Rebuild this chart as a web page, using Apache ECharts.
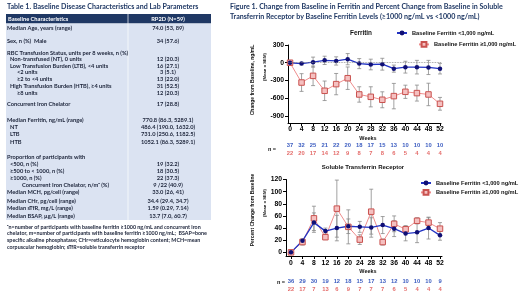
<!DOCTYPE html>
<html><head><meta charset="utf-8">
<script src="https://cdn.jsdelivr.net/npm/echarts@6/dist/echarts.min.js"></script>
<style>html,body{margin:0;padding:0;background:#fff}#c{width:520px;height:294px}</style>
</head><body><div id="c"></div>
<script>
// ---------- data ----------
const weeks = [0,4,8,12,16,20,24,28,32,36,40,44,48,52];
const LOW = 'Baseline Ferritin <1,000 ng/mL';
const HIGH = 'Baseline Ferritin \u22651,000 ng/mL';
const ferLowMean  = [0,-15,10,40,30,60,-15,-30,-25,-100,-75,-75,-80,-100];
const ferLowSem   = [0,20,85,70,70,95,85,90,100,60,100,115,120,90];
const ferHighMean = [0,-335,-222,-475,-362,-262,-537,-577,-627,-565,-492,-514,-537,-695];
const ferHighSem  = [0,150,165,165,180,190,130,170,135,215,112,135,190,108];
const ferNLow  = [37,32,25,21,22,20,18,17,15,13,10,10,10,10];
const ferNHigh = [22,20,17,14,12,9,8,7,8,6,5,4,4,4];
const stfLowMean  = [0,19,49,35,40,43,42,41,45,39,31,33,40,28];
const stfLowSem   = [0,3,16,5,21,12,9,16,14,13,12,17,18,8];
const stfHighMean = [0,17,56,25,72,42,21,67,17,47,38,52,49,39];
const stfHighSem  = [0,5,20,4,47,28,8,37,5,13,6,5,8,10];
const stfNLow  = [36,29,30,19,12,18,15,17,13,12,10,10,10,9];
const stfNHigh = [22,17,7,13,6,9,7,7,7,6,5,4,4,4];
const ferYTicks = [300,0,-300,-600,-900];
const stfYTicks = [0,20,40,60,80,100,120];

const tableLabels = [
 'Median Age, years (range)','Sex, n (%)  Male','RBC Transfusion Status, units per 8 weeks, n (%)',
 'Non-transfused (NT), 0 units','Low Transfusion Burden (LTB), <4 units','<2 units','\u22652 to <4 units',
 'High Transfusion Burden (HTB), \u22654 units','\u22658 units','Concurrent Iron Chelator',
 'Median Ferritin, ng/mL (range)','NT','LTB','HTB','Proportion of participants with',
 '<500, n (%)','\u2265500 to < 1000, n (%)','\u22651000, n (%)','Concurrent Iron Chelator, n/m\u1d43 (%)',
 'Median MCH, pg/cell (range)','Median CHr, pg/cell (range)','Median sTfR, mg/L (range)','Median BSAP, \u00b5g/L (range)'];
const tableValues = [
 '74.0 (53, 89)','34 (57.6)','','12 (20.3)','16 (27.1)','3 (5.1)','13 (22.0)','31 (52.5)','12 (20.3)','17 (28.8)',
 '770.8 (86.3, 5289.1)','486.4 (190.0, 1632.0)','731.0 (250.6, 1182.5)','1052.1 (86.3, 5289.1)','',
 '19 (32.2)','18 (30.5)','22 (37.3)','9 /22 (40.9)','33.0 (26, 41)','34.4 (29.4, 34.7)','1.59 (0.29, 7.14)','13.7 (7.0, 60.7)'];
const tableIndent = [0,0,0,1,1,2,2,1,2,0,0,1,1,1,0,1,1,1,3,0,0,0,0];
const footnote = [
 '\u1d43n=number of participants with baseline ferritin \u22651000 ng/mL and concurrent iron',
 'chelator, m=number of participants with baseline ferritin \u22651000 ng/mL;  BSAP=bone',
 'specific alkaline phosphatase; CHr=reticulocyte hemoglobin content; MCH=mean',
 'corpuscular hemoglobin; sTfR=soluble transferrin receptor'];

// ---------- layout ----------
const rowY = [28.5,41.5,52.7,59.3,66,72.6,79.3,86,93,104,120,127,134.3,141.7,157.3,164.3,171,177.8,184.8,192.3,201,208.3,215.7];
const indentX = [7,10,17,22];
const NAVY = '#1f3864';
const TFONT = 'Lato';
const CFONT = 'Liberation Sans';
const BLUE_LINE = '#2233c4', BLUE_PT = '#0f0f75';
const RED_LINE = '#ee8d8d', RED_FILL = '#f5c0c0', RED_EDGE = '#c9524f';

const g = [];
function txt(x, y, t, o) {
  o = o || {};
  g.push({type:'text', x:x, y:y, rotation:o.rot||0, silent:true, z:10,
    style:{text:t, fill:o.fill||'#1a2238', fontSize:o.size||5.7, fontWeight:o.weight||'bold',
      fontFamily:o.family||TFONT, align:o.align||'left', verticalAlign:'middle'}});
}
// table
g.push({type:'rect', shape:{x:6,y:14,width:205,height:9.5}, style:{fill:NAVY}, silent:true});
g.push({type:'rect', shape:{x:6,y:23.5,width:205,height:196.5}, style:{fill:'#dbe3f2'}, silent:true});
g.push({type:'line', shape:{x1:128,y1:14,x2:128,y2:220}, style:{stroke:'#ffffff',lineWidth:0.7}, silent:true});
txt(7, 6.8, 'Table 1. Baseline Disease Characteristics and Lab Parameters', {fill:NAVY, size:7.1});
txt(8, 18.8, 'Baseline Characteristics', {fill:'#ffffff', size:5.7});
txt(168, 18.8, 'RP2D (N=59)', {fill:'#ffffff', size:5.7, align:'center'});
tableLabels.forEach((l,i)=>{
  txt(indentX[tableIndent[i]], rowY[i], l);
  if (tableValues[i]) txt(168, rowY[i], tableValues[i], {align:'center'});
});
footnote.forEach((l,i)=> txt(7, 227+i*6.7, l, {size:5.35}));
// figure title
txt(230, 6.8, 'Figure 1. Change from Baseline in Ferritin and Percent Change from Baseline in Soluble', {fill:NAVY, size:7.1});
txt(230, 16.8, 'Transferrin Receptor by Baseline Ferritin Levels (\u22651000 ng/mL vs <1000 ng/mL)', {fill:NAVY, size:7.1});
// chart sub titles
txt(361, 33, 'Ferritin', {fill:'#111', size:6.4, family:CFONT, align:'center'});
txt(363, 167, 'Soluble Transferrin Receptor', {fill:'#111', size:6, family:CFONT, align:'center'});
// axis names
txt(253, 80, 'Change from Baseline, ng/mL', {fill:'#111', size:5, family:CFONT, align:'center', rot:Math.PI/2});
txt(265, 67, '(Mean \u00b1 SEM)', {fill:'#111', size:4.3, family:CFONT, align:'center', rot:Math.PI/2});
txt(253, 210, 'Percent Change from Baseline', {fill:'#111', size:5, family:CFONT, align:'center', rot:Math.PI/2});
txt(265, 203, '(Mean \u00b1 SEM)', {fill:'#111', size:4.3, family:CFONT, align:'center', rot:Math.PI/2});
txt(368, 138.3, 'Weeks', {fill:'#111', size:5.5, family:CFONT, align:'center'});
txt(368, 271, 'Weeks', {fill:'#111', size:5.5, family:CFONT, align:'center'});
txt(272, 149.5, 'n =', {fill:'#111', size:5.5, family:CFONT, align:'center'});
txt(281, 282.5, 'n =', {fill:'#111', size:5.5, family:CFONT, align:'center'});

function errRender(params, api) {
  const x = api.value(0), lo = api.value(1), hi = api.value(2);
  if (hi === lo) return null;
  const a = api.coord([x, hi]), b = api.coord([x, lo]);
  const cw = 2, st = {stroke:'#8a8a8a', lineWidth:0.8};
  return {type:'group', children:[
    {type:'line', shape:{x1:a[0],y1:a[1],x2:b[0],y2:b[1]}, style:st},
    {type:'line', shape:{x1:a[0]-cw,y1:a[1],x2:a[0]+cw,y2:a[1]}, style:st},
    {type:'line', shape:{x1:b[0]-cw,y1:b[1],x2:b[0]+cw,y2:b[1]}, style:st}]};
}
const errData = (m,s)=> weeks.map((w,i)=>[w, m[i]-s[i], m[i]+s[i]]);
const ptData = (m)=> weeks.map((w,i)=>[w, m[i]]);

function xAxisCfg(gi, nLow, nHigh, gapH, margin) {
  return {type:'value', gridIndex:gi, min: gi===0?-0.7:-1.75, max: gi===0?52.35:52.7,
    axisLine:{onZero:false, lineStyle:{color:'#000', width:1}},
    axisTick:{customValues:weeks, length:3, lineStyle:{color:'#000', width:1}},
    splitLine:{show:false},
    axisLabel:{customValues:weeks, margin: margin,
      formatter:(v)=>{const i=weeks.indexOf(v); return '{t|'+v+'}\n{g| }\n{b|'+nLow[i]+'}\n{r|'+nHigh[i]+'}';},
      rich:{
        t:{fontFamily:CFONT, fontWeight:'bold', fontSize:6.8, color:'#000', lineHeight:8},
        g:{fontSize:4, lineHeight:gapH},
        b:{fontFamily:CFONT, fontWeight:'bold', fontSize:5.8, color:'#3b5cc0', lineHeight:8},
        r:{fontFamily:CFONT, fontWeight:'bold', fontSize:5.8, color:'#e46c6a', lineHeight:8}
      }}};
}
function yAxisCfg(gi, min, max, ticks) {
  return {type:'value', gridIndex:gi, min:min, max:max,
    axisLine:{show:true, onZero:false, lineStyle:{color:'#000', width:1}},
    axisTick:{show:true, customValues:ticks, length:3, lineStyle:{color:'#000', width:1}},
    splitLine:{show:false},
    axisLabel:{customValues:ticks, margin:4, fontFamily:CFONT, fontWeight:'bold', fontSize:6.8, color:'#000'}};
}
function lineSeries(name, gi, data, low) {
  return {type:'line', name:name, xAxisIndex:gi, yAxisIndex:gi, data:data, z:3,
    symbol: low?'circle':'rect', symbolSize: low?4.5:5.5,
    lineStyle:{color: low?BLUE_LINE:RED_LINE, width: low?1.3:1},
    itemStyle: low?{color:BLUE_PT}:{color:RED_FILL, borderColor:RED_EDGE, borderWidth:1},
    animation:false};
}
function errSeries(gi, data) {
  return {type:'custom', xAxisIndex:gi, yAxisIndex:gi, data:data, renderItem:errRender,
    encode:{x:0, y:[1,2]}, z:2, silent:true, animation:false};
}
const legTxt = {fontFamily:CFONT, fontWeight:'bold', fontSize:5.7, color:'#111'};
const legBase = {itemWidth:10, itemHeight:6, padding:0, itemGap:0, textStyle:legTxt};
const option = {
  animation:false,
  grid:[
    {left:288, top:45, width:153, height:78},
    {left:286, top:179.5, width:156, height:76.5}
  ],
  xAxis:[xAxisCfg(0, ferNLow, ferNHigh, 8.2, 2.5), xAxisCfg(1, stfNLow, stfNHigh, 10, 3.3)],
  yAxis:[yAxisCfg(0, -1020, 300, ferYTicks), yAxisCfg(1, -6, 120, stfYTicks)],
  legend:[
    Object.assign({data:[LOW], left:396, top:30}, legBase),
    Object.assign({data:[HIGH], left:418, top:41}, legBase),
    Object.assign({data:[LOW], left:420, top:180}, legBase),
    Object.assign({data:[HIGH], left:420, top:189}, legBase)
  ],
  series:[
    errSeries(0, errData(ferLowMean, ferLowSem)),
    errSeries(0, errData(ferHighMean, ferHighSem)),
    lineSeries(HIGH, 0, ptData(ferHighMean), false),
    Object.assign(lineSeries(LOW, 0, ptData(ferLowMean), true), {
      markLine:{silent:true, symbol:'none', label:{show:false},
        lineStyle:{color:'#888', type:'dotted', width:0.8}, data:[{yAxis:0}]}}),
    errSeries(1, errData(stfLowMean, stfLowSem)),
    errSeries(1, errData(stfHighMean, stfHighSem)),
    lineSeries(HIGH, 1, ptData(stfHighMean), false),
    lineSeries(LOW, 1, ptData(stfLowMean), true)
  ],
  graphic: g
};
const chart = echarts.init(document.getElementById('c'), null, {renderer:'canvas'});
chart.setOption(option);
</script>
</body></html>
